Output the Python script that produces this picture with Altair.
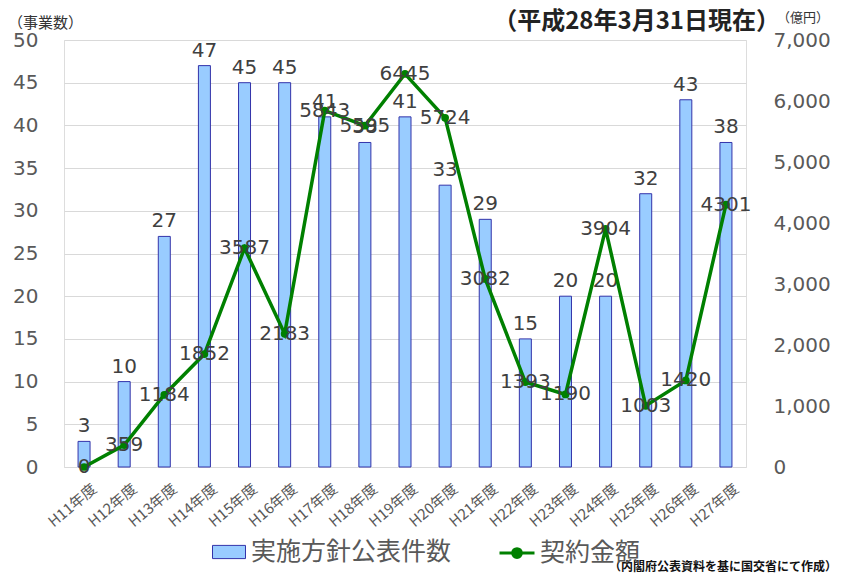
import altair as alt
import pandas as pd

years = ["H11年度", "H12年度", "H13年度", "H14年度", "H15年度", "H16年度", "H17年度",
         "H18年度", "H19年度", "H20年度", "H21年度", "H22年度", "H23年度", "H24年度",
         "H25年度", "H26年度", "H27年度"]
counts = [3, 10, 27, 47, 45, 45, 41, 38, 41, 33, 29, 15, 20, 20, 32, 43, 38]
amounts = [0, 359, 1184, 1852, 3587, 2183, 5843, 5595, 6445, 5724, 3082, 1393, 1190,
           3904, 1003, 1420, 4301]
bar_name = "実施方針公表件数"
line_name = "契約金額"
notes = ["（事業数）", "（平成28年3月31日現在）", "（億円）", "（内閣府公表資料を基に国交省にて作成）"]

df = pd.DataFrame({"year": years, "count": counts, "amount": amounts,
                   "s1": bar_name, "s2": line_name})

W, H = 682, 427
JP = "Noto Sans CJK JP"
NUM = "DejaVu Sans"

x = alt.X("year:N", sort=years,
          scale=alt.Scale(paddingInner=0, paddingOuter=0),
          axis=alt.Axis(title=None, labelAngle=-40, labelFont=JP, labelFontSize=15,
                        labelColor="#595959", ticks=False, domain=False, labelPadding=14,
                        labelOffset=6))

yl = alt.Y("count:Q", scale=alt.Scale(domain=[0, 50]),
           axis=alt.Axis(values=list(range(0, 51, 5)), title=None, labelFont=NUM,
                         labelFontSize=20, labelColor="#595959", ticks=False,
                         domain=False, labelPadding=26, gridColor="#D9D9D9",
                         labelOverlap=False))
yr = alt.Y("amount:Q", scale=alt.Scale(domain=[0, 7000]),
           axis=alt.Axis(orient="right", values=list(range(0, 7001, 1000)), format=",d",
                         title=None, labelFont=NUM, labelFontSize=20,
                         labelColor="#595959", ticks=False, domain=False,
                         labelPadding=27, grid=False, labelOverlap=False))

base = alt.Chart(df)

bars = base.mark_bar(size=12, stroke="#3333AA", strokeWidth=1).encode(
    x=x, y=yl,
    fill=alt.Fill("s1:N", scale=alt.Scale(range=["#99CCFF"]),
                  legend=alt.Legend(title=None, orient="none", legendX=148, legendY=495,
                                    padding=0,
                                    symbolType="M-1,-0.4H1V0.4H-1Z", symbolSize=1089,
                                    symbolStrokeColor="#3333AA", symbolStrokeWidth=1,
                                    symbolOpacity=1,
                                    labelFont=JP, labelFontSize=25, labelColor="#595959",
                                    labelLimit=400, labelOffset=5)))
bar_text = base.mark_text(font=NUM, fontSize=20, color="#404040",
                          baseline="alphabetic", dy=-9).encode(
    x=x, y=alt.Y("count:Q"), text=alt.Text("count:Q", format="d"))

line = base.mark_line(strokeWidth=3.5).encode(
    x=x, y=yr,
    stroke=alt.Stroke("s2:N", scale=alt.Scale(range=["#008000"]),
                      legend=alt.Legend(title=None, orient="none", legendX=434, legendY=494,
                                        padding=0,
                                        symbolType="M-1,0H1M-0.25,0A0.25,0.25 0 1,1 0.25,0A0.25,0.25 0 1,1 -0.25,0",
                                        symbolSize=1225, symbolStrokeWidth=3,
                                        symbolFillColor="#008000", symbolOpacity=1,
                                        labelFont=JP, labelFontSize=25,
                                        labelColor="#595959", labelLimit=400,
                                        labelOffset=4)))
pts = base.mark_circle(size=60, color="#008000", opacity=1).encode(
    x=x, y=alt.Y("amount:Q"))
line_text = base.mark_text(font=NUM, fontSize=20, color="#404040",
                           baseline="middle").encode(
    x=x, y=alt.Y("amount:Q"), text=alt.Text("amount:Q", format="d"))

n1 = alt.Chart(pd.DataFrame({"t": [notes[0]]})).mark_text(
    font=JP, fontSize=15, color="#333333", align="left", baseline="middle").encode(
    x=alt.value(-56), y=alt.value(-17), text="t:N")
n2 = alt.Chart(pd.DataFrame({"t": [notes[1]]})).mark_text(
    font=JP, fontSize=24, fontWeight="bold", color="#222222", align="right",
    baseline="middle").encode(x=alt.value(716), y=alt.value(-18), text="t:N")
n3 = alt.Chart(pd.DataFrame({"t": [notes[2]]})).mark_text(
    font=JP, fontSize=13, color="#333333", align="left", baseline="middle").encode(
    x=alt.value(713), y=alt.value(-22), text="t:N")
n4 = alt.Chart(pd.DataFrame({"t": [notes[3]]})).mark_text(
    font=JP, fontSize=12, fontWeight="bold", color="#111111", align="right",
    baseline="middle").encode(x=alt.value(773), y=alt.value(527), text="t:N")

left = alt.layer(bars, bar_text)
right = alt.layer(line, pts, line_text)

chart = alt.layer(left, right, n1, n2, n3, n4).resolve_scale(
    y="independent", fill="independent", stroke="independent"
).properties(
    width=W, height=H,
    autosize=alt.AutoSizeParams(type="none"),
    padding={"left": 56, "top": 32, "right": 91, "bottom": 106},
).configure_view(stroke="#A0A0A0", strokeWidth=1).configure(background="white")

chart.save("out.html", embed_options={"renderer": "svg", "actions": False})
